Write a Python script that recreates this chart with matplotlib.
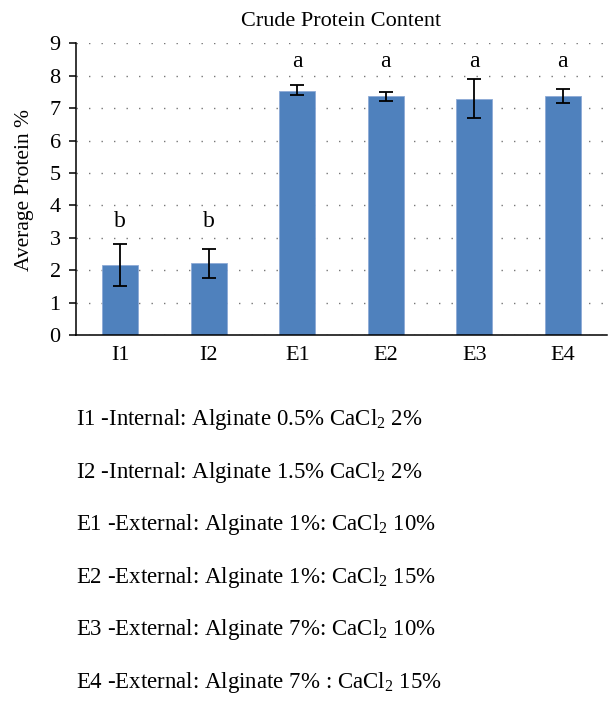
import matplotlib
matplotlib.use("Agg")
import matplotlib.pyplot as plt
import numpy as np

# data
groups = ["I1", "I2", "E1", "E2", "E3", "E4"]
protein = [2.17, 2.21, 7.54, 7.36, 7.28, 7.38]
err_lo = [0.65, 0.45, 0.15, 0.14, 0.60, 0.21]
err_hi = [0.65, 0.43, 0.17, 0.13, 0.61, 0.20]
letters = ["b", "b", "a", "a", "a", "a"]
letter_y = [3.33, 3.33, 8.27, 8.27, 8.27, 8.27]
notes = [
    "I1 -Internal: Alginate 0.5% CaCl$_2$ 2%",
    "I2 -Internal: Alginate 1.5% CaCl$_2$ 2%",
    "E1 -External: Alginate 1%: CaCl$_2$ 10%",
    "E2 -External: Alginate 1%: CaCl$_2$ 15%",
    "E3 -External: Alginate 7%: CaCl$_2$ 10%",
    "E4 -External: Alginate 7% : CaCl$_2$ 15%",
]

plt.rcParams["font.family"] = ["Liberation Serif", "DejaVu Serif"]
plt.rcParams["mathtext.fontset"] = "custom"
plt.rcParams["mathtext.rm"] = "Liberation Serif"
plt.rcParams["mathtext.it"] = "Liberation Serif"

W, H = 616, 711
fig = plt.figure(figsize=(W / 100, H / 100), dpi=100)
ax = fig.add_axes([76 / W, 1 - 335 / H, (607 - 76) / W, (335 - 43.3) / H])

x = np.arange(len(groups))
ax.bar(x, protein, width=0.41, color="#4f81bd", edgecolor="#8eaad6", linewidth=0.6, zorder=2)
ax.errorbar(x, protein, yerr=[err_lo, err_hi], fmt="none", ecolor="black",
            elinewidth=1.3, capsize=5, capthick=1.3, zorder=3)
for xi, lab, ly in zip(x, letters, letter_y):
    ax.text(xi, ly, lab, ha="center", va="baseline", fontsize=17)

ax.set_xlim(-0.5, len(groups) - 0.5)
ax.set_ylim(0, 9)
ax.set_yticks(range(10))
ax.set_xticks(x)
ax.set_xticklabels(groups)
ax.yaxis.grid(True, linestyle=(0, (1, 8)), color="#777777", linewidth=1.0, zorder=0)
ax.set_axisbelow(True)
for s in ["top", "right"]:
    ax.spines[s].set_visible(False)
ax.spines["left"].set_linewidth(1.1)
ax.spines["bottom"].set_linewidth(1.1)
ax.tick_params(axis="y", length=5, width=1.1, pad=6, labelsize=16)
ax.tick_params(axis="x", length=0, pad=8, labelsize=16)

fig.text(341.5 / W, 1 - 22 / H, "Crude Protein Content", ha="center", va="center", fontsize=16)
fig.text(25 / W, 1 - 190 / H, "Average Protein %", ha="center", va="center",
         rotation=90, fontsize=15.5)

for i, line in enumerate(notes):
    fig.text(76 / W, 1 - (425 + 52.6 * i) / H, line, ha="left", va="baseline", fontsize=16.5)

fig.savefig("out.png", dpi=100)
